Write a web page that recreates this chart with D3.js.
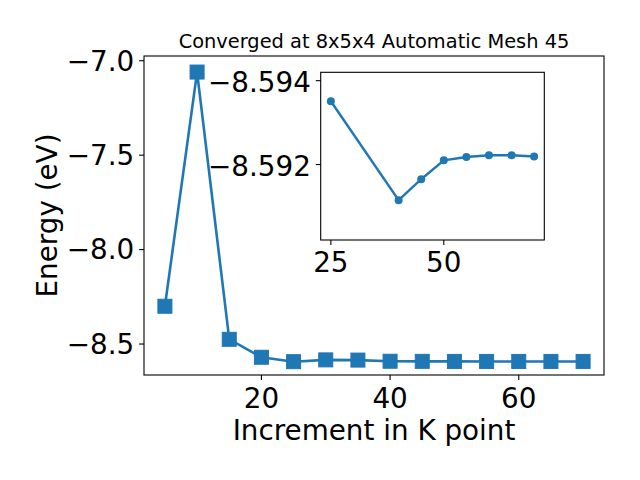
<!DOCTYPE html>
<html>
<head>
<meta charset="utf-8">
<script src="https://cdn.jsdelivr.net/npm/d3@7"></script>
<style>
  html, body { margin: 0; padding: 0; background: #fff; }
  text { font-family: "DejaVu Sans", sans-serif; fill: #000; }
</style>
</head>
<body>
<div id="chart"></div>
<script>
const width = 640;
const height = 480;

// k point increments and total energies (eV)
const kpoints = [5, 10, 15, 20, 25, 30, 35, 40, 45, 50, 55, 60, 65, 70];
const energy = [-8.300, -7.060, -8.475, -8.570, -8.5935, -8.584, -8.585,
  -8.5911, -8.5917, -8.5921, -8.5922, -8.5922, -8.5922, -8.5922];

// inset: zoom on converged region
const insetK = [25, 40, 45, 50, 55, 60, 65, 70];
const insetE = [-8.59351, -8.59115, -8.59165, -8.59210, -8.59218, -8.59222, -8.59222, -8.59219];

const xTicks = [20, 40, 60];
const yTicks = [-7.0, -7.5, -8.0, -8.5];
const insetXTicks = [25, 50];
const insetYTicks = [-8.594, -8.592];

const title = "Converged at 8x5x4 Automatic Mesh 45";
const xLabel = "Increment in K point";
const yLabel = "Energy (eV)";

const blue = "#1f77b4";
const minus = s => s.replace("-", "\u2212");

const svg = d3.select("#chart")
  .append("svg")
  .attr("width", width)
  .attr("height", height);

// main axes box
const main = { left: 144, right: 604, top: 56, bottom: 375 };

const x = d3.scaleLinear()
  .domain([1.75, 73.25])
  .range([main.left, main.right]);

const y = d3.scaleLinear()
  .domain([-8.664, -6.975])
  .range([main.bottom, main.top]);

const tickLen = 4.9;
const tickFont = "27.8px";

svg.append("rect")
  .attr("x", main.left)
  .attr("y", main.top)
  .attr("width", main.right - main.left)
  .attr("height", main.bottom - main.top)
  .attr("fill", "none")
  .attr("stroke", "#000")
  .attr("stroke-width", 1.1);

// x ticks
const xt = svg.append("g").selectAll("g").data(xTicks).enter().append("g");
xt.append("line")
  .attr("x1", d => x(d)).attr("x2", d => x(d))
  .attr("y1", main.bottom).attr("y2", main.bottom + tickLen)
  .attr("stroke", "#000").attr("stroke-width", 1.1);
xt.append("text")
  .attr("x", d => x(d))
  .attr("y", 407.5)
  .attr("text-anchor", "middle")
  .style("font-size", tickFont)
  .text(d => d);

// y ticks
const yt = svg.append("g").selectAll("g").data(yTicks).enter().append("g");
yt.append("line")
  .attr("x1", main.left - tickLen).attr("x2", main.left)
  .attr("y1", d => y(d)).attr("y2", d => y(d))
  .attr("stroke", "#000").attr("stroke-width", 1.1);
yt.append("text")
  .attr("x", main.left - tickLen - 4.9)
  .attr("y", d => y(d) + 9.8)
  .attr("text-anchor", "end")
  .style("font-size", tickFont)
  .text(d => minus(d3.format(".1f")(d)));

// labels
svg.append("text")
  .attr("x", (main.left + main.right) / 2)
  .attr("y", 440)
  .attr("text-anchor", "middle")
  .style("font-size", "27.8px")
  .text(xLabel);

svg.append("text")
  .attr("transform", `translate(57, ${(main.top + main.bottom) / 2}) rotate(-90)`)
  .attr("text-anchor", "middle")
  .style("font-size", "27.8px")
  .text(yLabel);

svg.append("text")
  .attr("x", (main.left + main.right) / 2)
  .attr("y", 47.7)
  .attr("text-anchor", "middle")
  .style("font-size", "19.4px")
  .text(title);

// main series
const pts = kpoints.map((k, i) => [k, energy[i]]);

svg.append("path")
  .datum(pts)
  .attr("d", d3.line().x(d => x(d[0])).y(d => y(d[1])))
  .attr("fill", "none")
  .attr("stroke", blue)
  .attr("stroke-width", 2.6);

const sq = 14;
svg.append("g").selectAll("rect").data(pts).enter().append("rect")
  .attr("x", d => x(d[0]) - sq / 2)
  .attr("y", d => y(d[1]) - sq / 2)
  .attr("width", sq)
  .attr("height", sq)
  .attr("fill", blue)
  .attr("stroke", blue)
  .attr("stroke-width", 1);

// inset axes
const ins = { left: 320.7, right: 544.3, top: 72.3, bottom: 240 };

const ix = d3.scaleLinear()
  .domain([22.75, 72.25])
  .range([ins.left, ins.right]);

// y axis drawn inverted, as in the source figure
const iy = d3.scaleLinear()
  .domain([-8.5942, -8.5902])
  .range([ins.top, ins.bottom]);

const inset = svg.append("g");

inset.append("rect")
  .attr("x", ins.left)
  .attr("y", ins.top)
  .attr("width", ins.right - ins.left)
  .attr("height", ins.bottom - ins.top)
  .attr("fill", "#fff")
  .attr("stroke", "#000")
  .attr("stroke-width", 1.1);

const ixt = inset.append("g").selectAll("g").data(insetXTicks).enter().append("g");
ixt.append("line")
  .attr("x1", d => ix(d)).attr("x2", d => ix(d))
  .attr("y1", ins.bottom).attr("y2", ins.bottom + tickLen)
  .attr("stroke", "#000").attr("stroke-width", 1.1);
ixt.append("text")
  .attr("x", d => ix(d))
  .attr("y", 272)
  .attr("text-anchor", "middle")
  .style("font-size", tickFont)
  .text(d => d);

const iyt = inset.append("g").selectAll("g").data(insetYTicks).enter().append("g");
iyt.append("line")
  .attr("x1", ins.left - tickLen).attr("x2", ins.left)
  .attr("y1", d => iy(d)).attr("y2", d => iy(d))
  .attr("stroke", "#000").attr("stroke-width", 1.1);
iyt.append("text")
  .attr("x", ins.left - tickLen - 4.9)
  .attr("y", d => iy(d) + 11)
  .attr("text-anchor", "end")
  .style("font-size", tickFont)
  .text(d => minus(d3.format(".3f")(d)));

const ipts = insetK.map((k, i) => [k, insetE[i]]);

inset.append("path")
  .datum(ipts)
  .attr("d", d3.line().x(d => ix(d[0])).y(d => iy(d[1])))
  .attr("fill", "none")
  .attr("stroke", blue)
  .attr("stroke-width", 2.4);

inset.append("g").selectAll("circle").data(ipts).enter().append("circle")
  .attr("cx", d => ix(d[0]))
  .attr("cy", d => iy(d[1]))
  .attr("r", 4)
  .attr("fill", blue);
</script>
</body>
</html>
